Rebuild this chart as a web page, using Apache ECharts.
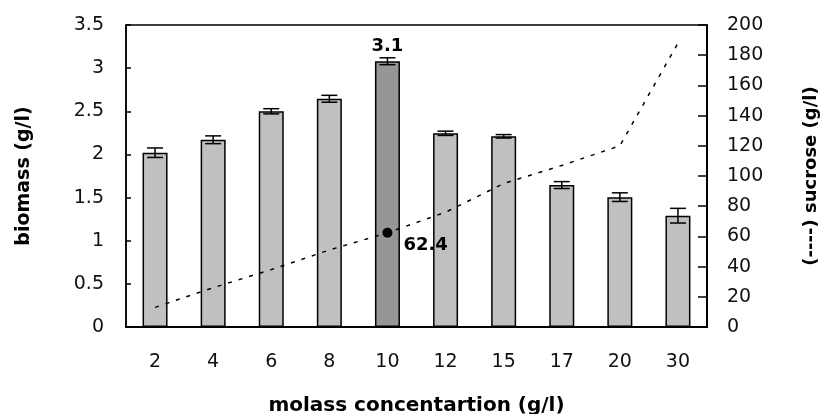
<!DOCTYPE html>
<html>
<head>
<meta charset="utf-8">
<script src="https://cdn.jsdelivr.net/npm/echarts@6/dist/echarts.min.js"></script>
<style>
html,body{margin:0;padding:0;background:#fff;}
#c{width:823px;height:414px;}
</style>
</head>
<body>
<div id="c"></div>
<script>
var categories = ['2','4','6','8','10','12','15','17','20','30'];
var biomass = [2.02, 2.17, 2.50, 2.645, 3.08, 2.245, 2.21, 1.645, 1.505, 1.29];
var biomassErr = [0.055, 0.045, 0.03, 0.04, 0.04, 0.025, 0.02, 0.04, 0.05, 0.085];
var sucrose = [13, 26, 38, 51, 62.4, 76, 95, 107, 120, 188];
var highlightIndex = 4;

var FONT = '"DejaVu Sans", "Liberation Sans", Arial, sans-serif';
var chart = echarts.init(document.getElementById('c'), null, {renderer: 'canvas'});

var barData = biomass.map(function (v, i) {
  var item = {value: v, itemStyle: {color: i === highlightIndex ? '#969696' : '#c0c0c0'}};
  if (i === highlightIndex) {
    item.label = {show: true, position: 'top', distance: 6, formatter: '3.1',
      fontFamily: FONT, fontWeight: 'bold', fontSize: 18, color: '#000'};
  }
  return item;
});

var lineData = sucrose.map(function (v, i) {
  if (i === highlightIndex) {
    return {value: v, symbol: 'circle', symbolSize: 10,
      itemStyle: {color: '#000'},
      label: {show: true, position: 'right', distance: 11, offset: [0, 13],
        formatter: '62.4', fontFamily: FONT, fontWeight: 'bold', fontSize: 18, color: '#000'}};
  }
  return {value: v, symbol: 'none'};
});

var errData = biomass.map(function (v, i) { return [i, v - biomassErr[i], v + biomassErr[i]]; });

chart.setOption({
  animation: false,
  backgroundColor: '#fff',
  grid: {left: 126, right: 116, top: 25, bottom: 87, outerBoundsMode: 'none', containLabel: false,
    show: true, borderColor: '#000', borderWidth: 1.5, backgroundColor: 'transparent'},
  xAxis: {
    type: 'category',
    data: categories,
    name: 'molass concentartion (g/l)',
    nameLocation: 'middle',
    nameGap: 69,
    nameTextStyle: {fontFamily: FONT, fontWeight: 'bold', fontSize: 20, color: '#000'},
    axisLine: {lineStyle: {color: '#000', width: 2}},
    axisTick: {inside: true, length: 5, lineStyle: {color: '#000', width: 1.5}},
    axisLabel: {margin: 26, fontFamily: FONT, fontSize: 19, color: '#111'}
  },
  yAxis: [{
    type: 'value',
    min: 0, max: 3.5, interval: 0.5,
    name: 'biomass (g/l)',
    nameLocation: 'middle',
    nameRotate: 90,
    nameGap: 92,
    nameTextStyle: {fontFamily: FONT, fontWeight: 'bold', fontSize: 19, color: '#000'},
    axisLine: {show: true, lineStyle: {color: '#000', width: 1.5}},
    axisTick: {show: true, inside: true, length: 5, lineStyle: {color: '#000', width: 1.5}},
    axisLabel: {margin: 22, fontFamily: FONT, fontSize: 19, color: '#111'},
    splitLine: {show: false}
  }, {
    type: 'value',
    position: 'right',
    min: 0, max: 200, interval: 20,
    name: '(----) sucrose (g/l)',
    nameLocation: 'middle',
    nameRotate: 90,
    nameGap: 95,
    nameTextStyle: {fontFamily: FONT, fontWeight: 'bold', fontSize: 18, color: '#000'},
    axisLine: {show: true, lineStyle: {color: '#000', width: 2}},
    axisTick: {show: true, inside: true, length: 9, lineStyle: {color: '#000', width: 1.5}},
    axisLabel: {margin: 20, fontFamily: FONT, fontSize: 19, color: '#111'},
    splitLine: {show: false}
  }],
  series: [{
    type: 'bar',
    data: barData,
    barWidth: 25,
    itemStyle: {borderColor: '#000', borderWidth: 1.5},
    z: 2
  }, {
    type: 'custom',
    data: errData,
    z: 3,
    renderItem: function (params, api) {
      var x = api.value(0);
      var lo = api.coord([x, api.value(1)]);
      var hi = api.coord([x, api.value(2)]);
      var w = 8;
      var st = {stroke: '#000', lineWidth: 1.5};
      return {type: 'group', children: [
        {type: 'line', shape: {x1: lo[0], y1: lo[1], x2: hi[0], y2: hi[1]}, style: st},
        {type: 'line', shape: {x1: lo[0] - w, y1: lo[1], x2: lo[0] + w, y2: lo[1]}, style: st},
        {type: 'line', shape: {x1: hi[0] - w, y1: hi[1], x2: hi[0] + w, y2: hi[1]}, style: st}
      ]};
    }
  }, {
    type: 'line',
    yAxisIndex: 1,
    data: lineData,
    lineStyle: {color: '#000', width: 1.5, type: [4, 7]},
    itemStyle: {color: '#000'},
    z: 4
  }]
});
</script>
</body>
</html>
